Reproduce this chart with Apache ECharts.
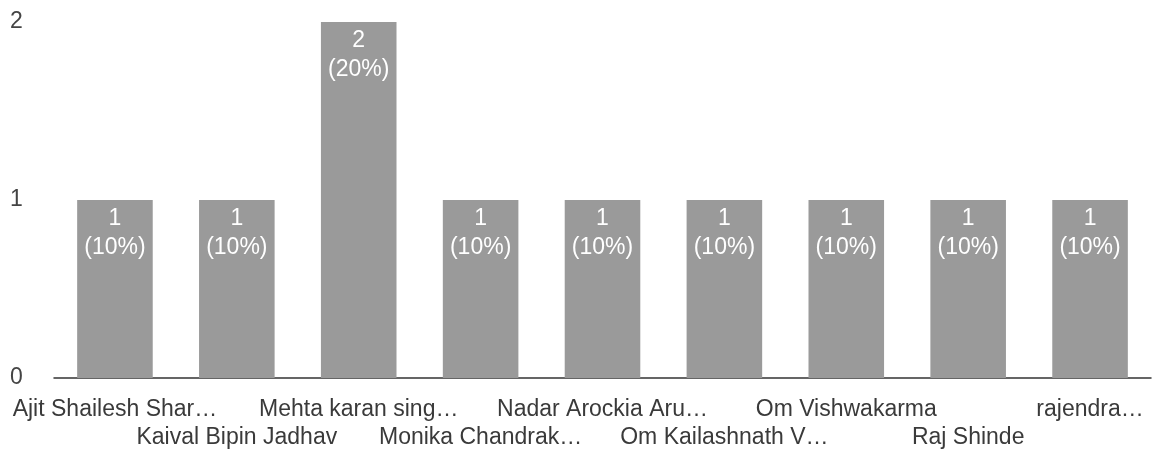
<!DOCTYPE html>
<html>
<head>
<meta charset="utf-8">
<script src="https://cdn.jsdelivr.net/npm/echarts@6/dist/echarts.min.js"></script>
<style>
  html, body { margin: 0; padding: 0; background: #fff; }
  #chart { width: 1153px; height: 453px; }
</style>
</head>
<body>
<div id="chart"></div>
<script>
// Respondent names (truncated as displayed)
const categories = [
  'Ajit Shailesh Shar…',
  'Kaival Bipin Jadhav',
  'Mehta karan sing…',
  'Monika Chandrak…',
  'Nadar Arockia Aru…',
  'Om Kailashnath V…',
  'Om Vishwakarma',
  'Raj Shinde',
  'rajendra…'
];
// Response counts per person
const counts = [1, 1, 2, 1, 1, 1, 1, 1, 1];
// Share of all responses, in percent
const percents = [10, 10, 20, 10, 10, 10, 10, 10, 10];
// Value axis ticks
const yTicks = [0, 1, 2];

const chart = echarts.init(document.getElementById('chart'));
chart.setOption({
  animation: false,
  textStyle: { fontFamily: 'Liberation Sans, Arial, sans-serif' },
  grid: { left: 54, right: 2, top: 22, bottom: 75 },
  xAxis: {
    type: 'category',
    data: categories,
    axisLine: { lineStyle: { color: '#333', width: 1.5 } },
    axisTick: { show: false },
    axisLabel: {
      interval: 0,
      hideOverlap: false,
      color: '#3a3a3a',
      fontSize: 23,
      margin: 18,
      lineHeight: 28,
      formatter: (v, i) => (i % 2 === 1 ? '\n' + v : v)
    }
  },
  yAxis: {
    type: 'value',
    min: yTicks[0],
    max: yTicks[yTicks.length - 1],
    interval: 1,
    splitLine: { show: false },
    axisLine: { show: false },
    axisTick: { show: false },
    axisLabel: {
      color: '#444',
      fontSize: 23,
      align: 'left',
      margin: 44
    }
  },
  series: [{
    type: 'bar',
    data: counts,
    barCategoryGap: '38%',
    itemStyle: { color: '#9a9a9a' },
    label: {
      show: true,
      position: 'insideTop',
      distance: 4,
      color: '#fff',
      fontSize: 23,
      lineHeight: 29,
      formatter: p => p.value + '\n(' + percents[p.dataIndex] + '%)'
    }
  }]
});
</script>
</body>
</html>
